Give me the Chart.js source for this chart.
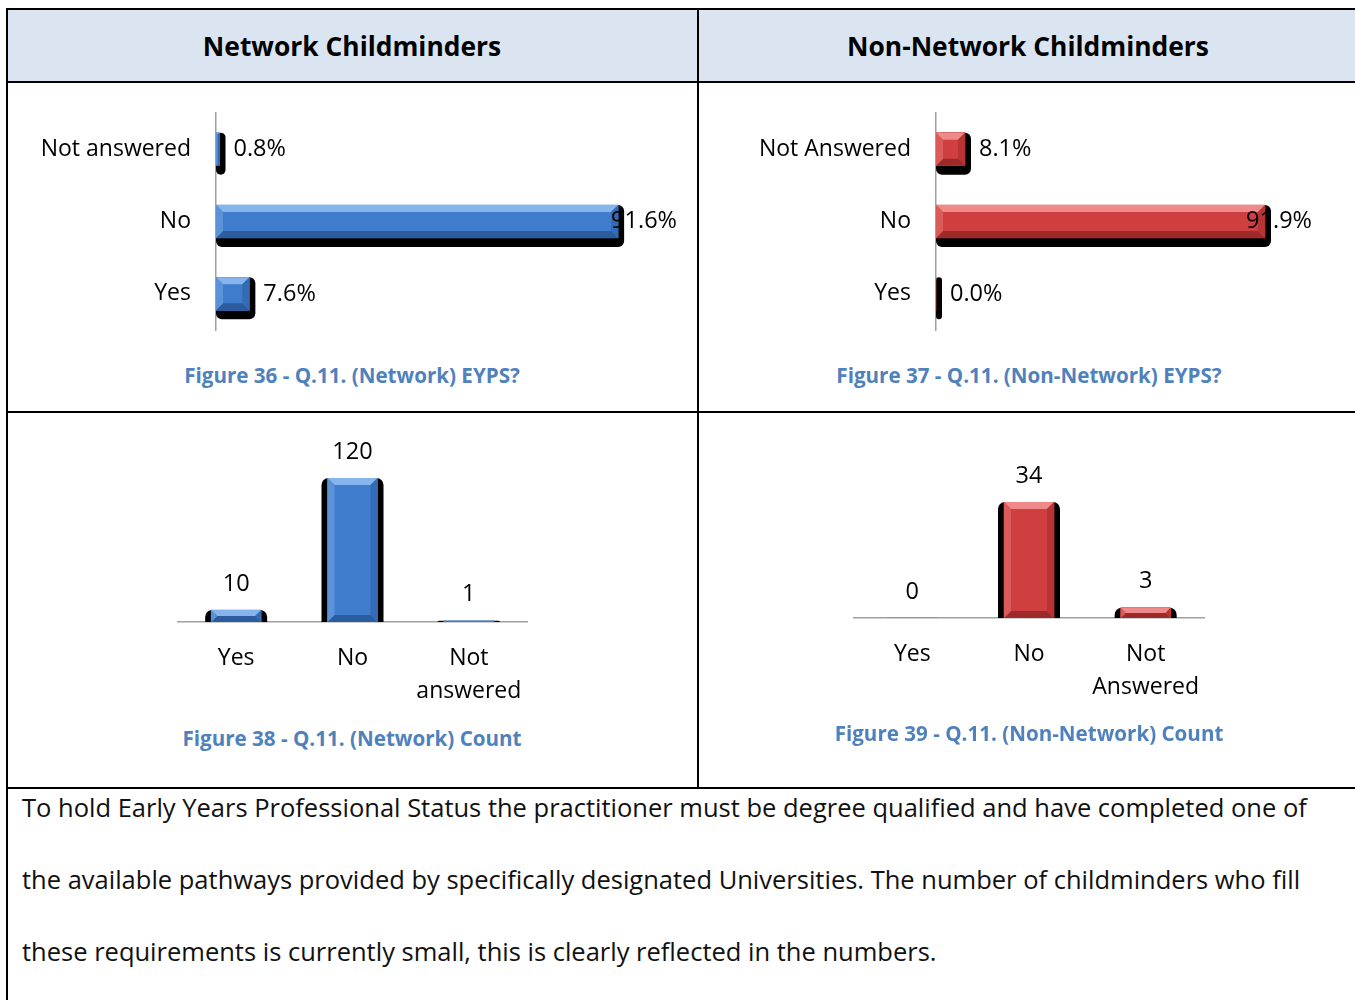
<!DOCTYPE html>
<html>
<head>
<meta charset="utf-8">
<script src="https://cdn.jsdelivr.net/npm/chart.js@4/dist/chart.umd.min.js"></script>
<style>
  html, body { margin: 0; padding: 0; background: #fff; }
  body { width: 1355px; height: 1000px; overflow: hidden; position: relative; font-family: "Open Sans", sans-serif; color: #000; }
  .ln { position: absolute; background: #000; }
  .hdr { position: absolute; background: #dbe5f1; }
  .htxt { position: absolute; font-weight: bold; font-size: 26.4px; transform: translate(-50%, -50%); white-space: nowrap; }
  .cap { position: absolute; font-weight: bold; font-size: 20.6px; color: #4f81bd; transform: translate(-50%, -50%); white-space: nowrap; }
  .box { position: absolute; }
  .para { position: absolute; left: 22px; top: 771px; font-size: 25.5px; line-height: 72px; color: #111; white-space: nowrap; }
</style>
</head>
<body>
<div class="hdr" style="left:8px;top:10px;width:1350px;height:71px;"></div>
<div class="ln" style="left:6px;top:8px;width:1352px;height:2px;"></div>
<div class="ln" style="left:6px;top:8px;width:2px;height:992px;"></div>
<div class="ln" style="left:6px;top:81px;width:1352px;height:2px;"></div>
<div class="ln" style="left:697px;top:8px;width:2px;height:780px;"></div>
<div class="ln" style="left:6px;top:411px;width:1352px;height:2px;"></div>
<div class="ln" style="left:6px;top:787px;width:1352px;height:2px;"></div>

<div class="htxt" style="left:352px;top:46px;">Network Childminders</div>
<div class="htxt" style="left:1028px;top:46px;">Non-Network Childminders</div>

<div class="box" style="left:20px;top:100px;width:670px;height:260px;"><canvas id="c1"></canvas></div>
<div class="box" style="left:720px;top:100px;width:620px;height:260px;"><canvas id="c2"></canvas></div>
<div class="box" style="left:160px;top:420px;width:390px;height:300px;"><canvas id="c3"></canvas></div>
<div class="box" style="left:836px;top:420px;width:390px;height:300px;"><canvas id="c4"></canvas></div>

<div class="cap" style="left:352px;top:375px;">Figure 36 - Q.11. (Network) EYPS?</div>
<div class="cap" style="left:1029px;top:375px;">Figure 37 - Q.11. (Non-Network) EYPS?</div>
<div class="cap" style="left:352px;top:738px;">Figure 38 - Q.11. (Network) Count</div>
<div class="cap" style="left:1029px;top:733px;">Figure 39 - Q.11. (Non-Network) Count</div>

<div class="para">To hold Early Years Professional Status the practitioner must be degree qualified and have completed one of<br>the available pathways provided by specifically designated Universities. The number of childminders who fill<br>these requirements is currently small, this is clearly reflected in the numbers.</div>

<script>
// percentage charts (top row)
const networkPctLabels = ['Not answered', 'No', 'Yes'];
const networkPct = [0.8, 91.6, 7.6];
const nonNetworkPctLabels = ['Not Answered', 'No', 'Yes'];
const nonNetworkPct = [8.1, 91.9, 0.0];

// count charts (bottom row)
const networkCountLabels = ['Yes', 'No', ['Not', 'answered']];
const networkCounts = [10, 120, 1];
const nonNetworkCountLabels = ['Yes', 'No', ['Not', 'Answered']];
const nonNetworkCounts = [0, 34, 3];

const FONT = '"Open Sans", sans-serif';
const BLUE = { face: '#3f7dcc', light: '#86b4ec', mid: '#5b93da', dark: '#2a5c9e', side: '#336cb5' };
const RED = { face: '#d03f3f', light: '#f08a8a', mid: '#dd5a5a', dark: '#9c2a2a', side: '#b83434' };

function barRect(el, horizontal) {
    const p = el.getProps(['x', 'y', 'base', 'width', 'height'], true);
    if (horizontal) {
        return { l: Math.min(p.base, p.x), r: Math.max(p.base, p.x), t: p.y - p.height / 2, b: p.y + p.height / 2 };
    }
    return { l: p.x - p.width / 2, r: p.x + p.width / 2, t: Math.min(p.y, p.base), b: Math.max(p.y, p.base) };
}

// black shadow behind the bars, bevel on top, value labels
const bevelBars = {
    id: 'bevelBars',
    beforeDatasetsDraw(chart, args, opts) {
        const ctx = chart.ctx;
        const horizontal = chart.options.indexAxis === 'y';
        ctx.save();
        ctx.fillStyle = '#000';
        chart.getDatasetMeta(0).data.forEach(el => {
            const r = barRect(el, horizontal);
            ctx.beginPath();
            if (horizontal) {
                ctx.roundRect(r.l, r.t, (r.r - r.l) + 6, (r.b - r.t) + 9, 6);
            } else {
                ctx.roundRect(r.l - 6, r.t, (r.r - r.l) + 12, r.b - r.t, [7, 7, 0, 0]);
            }
            ctx.fill();
        });
        ctx.restore();
    },
    afterDatasetsDraw(chart, args, opts) {
        const ctx = chart.ctx;
        const horizontal = chart.options.indexAxis === 'y';
        const c = opts.colors;
        const meta = chart.getDatasetMeta(0);
        const values = chart.data.datasets[0].data;
        ctx.save();
        meta.data.forEach((el, i) => {
            const r = barRect(el, horizontal);
            const w = r.r - r.l, h = r.b - r.t;
            const bw = Math.min(7, w / 2, h / 2);
            if (bw > 0.5) {
                const poly = (pts, col) => {
                    ctx.beginPath();
                    ctx.moveTo(pts[0][0], pts[0][1]);
                    pts.slice(1).forEach(q => ctx.lineTo(q[0], q[1]));
                    ctx.closePath();
                    ctx.fillStyle = col;
                    ctx.fill();
                };
                poly([[r.l, r.t], [r.r, r.t], [r.r - bw, r.t + bw], [r.l + bw, r.t + bw]], c.light);
                poly([[r.l, r.b], [r.r, r.b], [r.r - bw, r.b - bw], [r.l + bw, r.b - bw]], c.dark);
                poly([[r.l, r.t], [r.l + bw, r.t + bw], [r.l + bw, r.b - bw], [r.l, r.b]], c.mid);
                poly([[r.r, r.t], [r.r - bw, r.t + bw], [r.r - bw, r.b - bw], [r.r, r.b]], c.side);
            }
            // value label
            ctx.font = '23.5px ' + FONT;
            ctx.fillStyle = '#000';
            ctx.textBaseline = 'middle';
            const v = values[i];
            if (horizontal) {
                const txt = v.toFixed(1) + '%';
                const tw = ctx.measureText(txt).width;
                const x = Math.min(r.r + 14, opts.labelLimit - tw);
                ctx.textAlign = 'left';
                ctx.fillText(txt, x, (r.t + r.b) / 2);
            } else {
                ctx.textAlign = 'center';
                ctx.fillText(String(v), (r.l + r.r) / 2, r.t - 26);
            }
        });
        ctx.restore();
    }
};

function pctChart(id, labels, values, colors, axisWidth, padRight, labelLimit) {
    return new Chart(document.getElementById(id), {
        type: 'bar',
        data: {
            labels: labels,
            datasets: [{
                data: values,
                backgroundColor: colors.face,
                borderWidth: 0,
                barThickness: 33
            }]
        },
        options: {
            indexAxis: 'y',
            responsive: true,
            maintainAspectRatio: false,
            animation: false,
            layout: { padding: { top: 13, bottom: 30, left: 0, right: padRight } },
            scales: {
                x: { display: false, min: 0, max: 100 },
                y: {
                    afterFit: function (scale) {
                        scale.width = axisWidth;
                        scale.paddingTop = 0;
                        scale.paddingBottom = 0;
                    },
                    grid: { display: false },
                    border: { display: true, color: '#a0a0a0', width: 1.5 },
                    ticks: { padding: 17, color: '#000', font: { family: FONT, size: 23 } }
                }
            },
            plugins: {
                legend: { display: false },
                tooltip: { enabled: false },
                bevelBars: { colors: colors, labelLimit: labelLimit }
            }
        },
        plugins: [bevelBars]
    });
}

function countChart(id, labels, values, colors, maxVal, padTop, axisHeight, padRight) {
    return new Chart(document.getElementById(id), {
        type: 'bar',
        data: {
            labels: labels,
            datasets: [{
                data: values,
                backgroundColor: colors.face,
                borderWidth: 0,
                barThickness: 50
            }]
        },
        options: {
            responsive: true,
            maintainAspectRatio: false,
            animation: false,
            layout: { padding: { top: padTop, bottom: 0, left: 18, right: padRight } },
            scales: {
                y: { display: false, min: 0, max: maxVal },
                x: {
                    afterFit: function (scale) {
                        scale.height = axisHeight;
                        scale.paddingLeft = 0;
                        scale.paddingRight = 0;
                    },
                    grid: { display: false },
                    border: { display: true, color: '#a0a0a0', width: 1.5 },
                    ticks: { padding: 12, color: '#000', font: { family: FONT, size: 23, lineHeight: 33 / 23 } }
                }
            },
            plugins: {
                legend: { display: false },
                tooltip: { enabled: false },
                bevelBars: { colors: colors }
            }
        },
        plugins: [bevelBars]
    });
}

pctChart('c1', networkPctLabels, networkPct, BLUE, 196, 35, 657);
pctChart('c2', nonNetworkPctLabels, nonNetworkPct, RED, 216, 46, 592);
countChart('c3', networkCountLabels, networkCounts, BLUE, 120, 58, 98, 23);
countChart('c4', nonNetworkCountLabels, nonNetworkCounts, RED, 34, 82, 102, 22);
</script>
</body>
</html>
